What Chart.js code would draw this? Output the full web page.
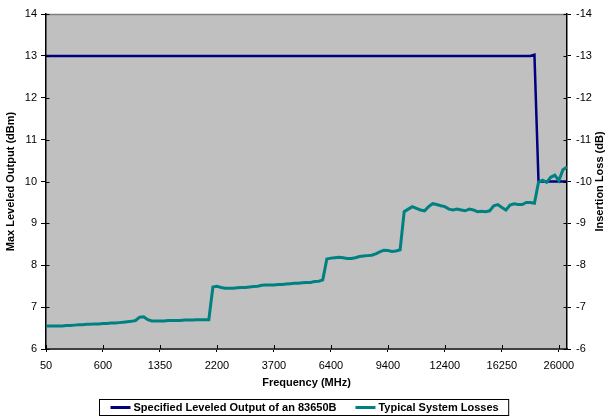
<!DOCTYPE html>
<html><head><meta charset="utf-8">
<script src="https://cdn.jsdelivr.net/npm/chart.js@4"></script>
<style>html,body{margin:0;padding:0;background:#fff;}</style>
</head><body>
<canvas id="c" width="607" height="417"></canvas>
<script>
// ---- data ----
const xLabels = ['50','600','1350','2200','3700','6400','9400','12400','16250','26000'];
const samplesPerLabel = 14;
const seriesNames = ['Specified Leveled Output of an 83650B', 'Typical System Losses'];
const outputLevel = [
 13,13,13,13,13,13,13,13,13,13, 13,13,13,13,13,13,13,13,13,13,
 13,13,13,13,13,13,13,13,13,13, 13,13,13,13,13,13,13,13,13,13,
 13,13,13,13,13,13,13,13,13,13, 13,13,13,13,13,13,13,13,13,13,
 13,13,13,13,13,13,13,13,13,13, 13,13,13,13,13,13,13,13,13,13,
 13,13,13,13,13,13,13,13,13,13, 13,13,13,13,13,13,13,13,13,13,
 13,13,13,13,13,13,13,13,13,13, 13,13,13,13,13,13,13,13,13,13,
 13.03,10,10,10,10,10,10,10,10
];
const insertionLoss = [
 -6.55,-6.55,-6.55,-6.55,-6.55,-6.56,-6.56,-6.57,-6.58,-6.58,
 -6.59,-6.59,-6.60,-6.60,-6.61,-6.61,-6.62,-6.62,-6.63,-6.64,
 -6.65,-6.66,-6.68,-6.76,-6.77,-6.70,-6.67,-6.67,-6.67,-6.67,
 -6.68,-6.68,-6.68,-6.68,-6.69,-6.69,-6.69,-6.70,-6.70,-6.70,
 -6.70,-7.48,-7.50,-7.47,-7.45,-7.45,-7.45,-7.46,-7.47,-7.47,
 -7.48,-7.49,-7.50,-7.52,-7.53,-7.53,-7.53,-7.54,-7.54,-7.55,
 -7.56,-7.57,-7.57,-7.58,-7.59,-7.59,-7.61,-7.62,-7.65,-8.15,
 -8.17,-8.18,-8.19,-8.18,-8.16,-8.16,-8.18,-8.21,-8.22,-8.23,
 -8.24,-8.27,-8.32,-8.36,-8.35,-8.33,-8.34,-8.37,-9.28,-9.34,
 -9.40,-9.36,-9.32,-9.30,-9.40,-9.47,-9.45,-9.42,-9.40,-9.34,
 -9.32,-9.34,-9.32,-9.30,-9.34,-9.32,-9.28,-9.29,-9.28,-9.30,
 -9.42,-9.45,-9.38,-9.32,-9.44,-9.47,-9.45,-9.45,-9.50,-9.50,
 -9.48,-9.98,-10.03,-9.98,-10.10,-10.15,-10.02,-10.28,-10.35
];
const leftRange = [6, 14];
const rightRange = [-14, -6];
const axisTitles = ['Frequency (MHz)', 'Max Leveled Output (dBm)', 'Insertion Loss (dB)'];

// ---- chart ----
const FONT = "Arial, 'Liberation Sans', sans-serif";
Chart.defaults.font.family = FONT;
Chart.defaults.font.size = 11;
Chart.defaults.color = '#000';

const plotBg = {
  id: 'plotBg',
  beforeDraw(chart) {
    const {ctx, chartArea: a} = chart;
    ctx.save();
    ctx.fillStyle = '#C0C0C0';
    ctx.fillRect(a.left, a.top, a.right - a.left, a.bottom - a.top);
    ctx.strokeStyle = '#808080';
    ctx.lineWidth = 1.5;
    ctx.beginPath(); ctx.moveTo(a.left, a.top + 0.5); ctx.lineTo(a.right, a.top + 0.5); ctx.stroke();
    ctx.restore();
  }
};

const extras = {
  id: 'extras',
  afterDatasetsDraw(chart) {
    const {ctx, chartArea: a, scales} = chart;
    ctx.save();
    ctx.strokeStyle = '#000';
    ctx.lineWidth = 1;
    scales.y.ticks.forEach(t => {
      const py = Math.round(scales.y.getPixelForValue(t.value)) + 0.5;
      ctx.beginPath(); ctx.moveTo(a.left, py); ctx.lineTo(a.left + 3.5, py); ctx.stroke();
    });
    scales.y2.ticks.forEach(t => {
      const py = Math.round(scales.y2.getPixelForValue(t.value)) + 0.5;
      ctx.beginPath(); ctx.moveTo(a.right - 3.5, py); ctx.lineTo(a.right, py); ctx.stroke();
    });
    scales.x.ticks.forEach(t => {
      const px = Math.round(scales.x.getPixelForValue(t.value)) + 0.5;
      ctx.beginPath(); ctx.moveTo(px, a.bottom - 4); ctx.lineTo(px, a.bottom); ctx.stroke();
    });
    ctx.restore();
  },
  afterDraw(chart) {
    const {ctx, chartArea: a} = chart;
    ctx.save();
    ctx.fillStyle = '#000';
    ctx.font = 'bold 11px ' + FONT;
    ctx.textAlign = 'center';
    ctx.textBaseline = 'middle';
    ctx.translate(600, (a.top + a.bottom) / 2);
    ctx.rotate(-Math.PI / 2);
    ctx.fillText(axisTitles[2], 0, 0);
    ctx.restore();

    // legend
    ctx.save();
    ctx.font = 'bold 11px ' + FONT;
    ctx.textBaseline = 'middle';
    ctx.textAlign = 'left';
    const ds = chart.data.datasets;
    const sample = 20, gap = 3, between = 19, padL = 11, padR = 10;
    const widths = ds.map(d => ctx.measureText(d.label).width);
    const total = padL + padR + ds.length * (sample + gap) + widths.reduce((s, w) => s + w, 0) + between * (ds.length - 1);
    const left = Math.round(chart.width / 2 - total / 2) + 0.5;
    const top = 399.5, h = 16;
    ctx.strokeStyle = '#000';
    ctx.lineWidth = 1;
    ctx.strokeRect(left, top, total, h);
    let x = left + padL;
    const cy = top + h / 2;
    ds.forEach((d, i) => {
      ctx.strokeStyle = d.borderColor;
      ctx.lineWidth = 3;
      ctx.beginPath(); ctx.moveTo(x, cy); ctx.lineTo(x + sample, cy); ctx.stroke();
      x += sample + gap;
      ctx.fillStyle = '#000';
      ctx.fillText(d.label, x, cy + 0.5);
      x += widths[i] + between;
    });
    ctx.restore();
  }
};

new Chart(document.getElementById('c'), {
  type: 'line',
  data: {
    datasets: [
      {
        label: seriesNames[0],
        data: outputLevel.map((v, i) => ({x: i, y: v})),
        borderColor: '#000080',
        borderWidth: 2.5,
        pointRadius: 0,
        tension: 0,
        yAxisID: 'y',
        order: 1
      },
      {
        label: seriesNames[1],
        data: insertionLoss.map((v, i) => ({x: i, y: v})),
        borderColor: '#008080',
        borderWidth: 3,
        pointRadius: 0,
        tension: 0,
        yAxisID: 'y2',
        order: 0
      }
    ]
  },
  options: {
    responsive: false,
    animation: false,
    layout: {padding: {top: 14, left: 0, right: 0, bottom: 0}},
    plugins: {legend: {display: false}, tooltip: {enabled: false}},
    scales: {
      x: {
        type: 'linear',
        min: 0,
        max: outputLevel.length - 1,
        afterBuildTicks: s => { s.ticks = xLabels.map((_, i) => ({value: i * samplesPerLabel})); },
        afterFit: s => { s.height = 68; },
        ticks: {callback: (v, i) => xLabels[i], padding: 7, maxRotation: 0, autoSkip: false, font: {size: 11}},
        grid: {drawOnChartArea: false, drawTicks: true, tickLength: 3, color: '#000'},
        border: {color: '#404040', width: 2},
        title: {display: true, text: axisTitles[0], font: {size: 11, weight: 'bold'}, padding: {top: 4, bottom: 27}}
      },
      y: {
        position: 'left',
        min: leftRange[0],
        max: leftRange[1],
        ticks: {stepSize: 1, padding: 4, font: {size: 11}},
        afterFit: s => { s.width = 46; },
        grid: {drawOnChartArea: false, tickLength: 5, color: '#000'},
        border: {color: '#000', width: 1.5},
        title: {display: true, text: axisTitles[1], font: {size: 11, weight: 'bold'}, padding: {top: 4, bottom: 4}}
      },
      y2: {
        position: 'right',
        min: rightRange[0],
        max: rightRange[1],
        reverse: true,
        ticks: {stepSize: 1, padding: 5, font: {size: 11}},
        afterFit: s => { s.width = 40; },
        grid: {drawOnChartArea: false, tickLength: 4, color: '#000'},
        border: {color: '#000', width: 1.5}
      }
    }
  },
  plugins: [plotBg, extras]
});
</script>
</body></html>
